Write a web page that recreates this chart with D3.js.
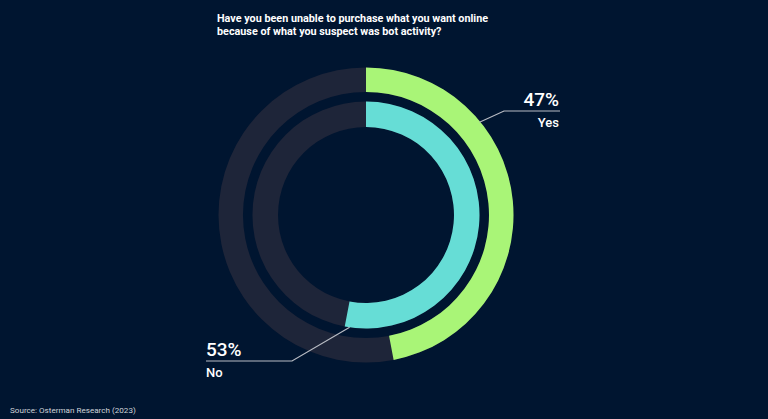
<!DOCTYPE html>
<html>
<head>
<meta charset="utf-8">
<script src="https://cdn.jsdelivr.net/npm/d3@7"></script>
<style>
  html, body { margin: 0; padding: 0; background: #001530; }
  svg { display: block; font-family: Roboto, "Noto Sans", sans-serif; }
</style>
</head>
<body>
<div class="visHolder"></div>
<script>
// chart data
const categories = ["Yes", "No"];
const values = [47, 53];
const colors = ["#a9f577", "#66ddd6"];
const titleLines = [
  "Have you been unable to purchase what you want online",
  "because of what you suspect was bot activity?"
];
const source = "Source: Osterman Research (2023)";

let width = 768;
let height = 419;
let cx = 366;
let cy = 215;

// ring radii: outer ring is Yes, inner ring is No
let rings = [
  { inner: 123, outer: 147.5 },
  { inner: 88, outer: 113.5 }
];

let svgContainer = d3
  .select(".visHolder")
  .append("svg")
  .attr("width", width)
  .attr("height", height);

svgContainer
  .append("rect")
  .attr("width", width)
  .attr("height", height)
  .attr("fill", "#001530");

let angle = d3.scaleLinear().domain([0, 100]).range([0, 2 * Math.PI]);

let g = svgContainer
  .append("g")
  .attr("transform", "translate(" + cx + "," + cy + ")");

categories.forEach(function (cat, i) {
  let arc = d3.arc().innerRadius(rings[i].inner).outerRadius(rings[i].outer);

  // track
  g.append("path")
    .attr("d", arc({ startAngle: 0, endAngle: 2 * Math.PI }))
    .attr("fill", "#1e2539");

  // value
  g.append("path")
    .attr("d", arc({ startAngle: 0, endAngle: angle(values[i]) }))
    .attr("fill", colors[i]);
});

// labels with leader lines
let labelLayout = [
  { at: 14.1, r: rings[0].outer - 1, elbow: [504, 111], end: 560, anchor: "end", tx: 559 },
  { at: 52.3, r: rings[1].outer, elbow: [292, 361], end: 206, anchor: "start", tx: 206 }
];

categories.forEach(function (cat, i) {
  let L = labelLayout[i];
  let a = angle(L.at);
  let px = cx + Math.sin(a) * L.r;
  let py = cy - Math.cos(a) * L.r;

  svgContainer
    .append("polyline")
    .attr("points", [[px, py], L.elbow, [L.end, L.elbow[1]]].map((p) => p.join(",")).join(" "))
    .attr("fill", "none")
    .attr("stroke", "#b8bcc4")
    .attr("stroke-width", 1.2);

  svgContainer
    .append("text")
    .attr("x", L.tx)
    .attr("y", L.elbow[1] - 5)
    .attr("text-anchor", L.anchor)
    .attr("fill", "#ffffff")
    .attr("font-size", 19)
    .attr("font-weight", 500)
    .text(values[i] + "%");

  svgContainer
    .append("text")
    .attr("x", L.tx)
    .attr("y", L.elbow[1] + 16)
    .attr("text-anchor", L.anchor)
    .attr("fill", "#ffffff")
    .attr("font-size", 13)
    .attr("font-weight", 500)
    .text(cat);
});

// title
svgContainer
  .append("g")
  .selectAll("text")
  .data(titleLines)
  .enter()
  .append("text")
  .attr("x", 217)
  .attr("y", (d, i) => 22 + i * 12.5)
  .attr("fill", "#ffffff")
  .attr("font-size", 10.8)
  .attr("font-weight", "bold")
  .text((d) => d);

svgContainer
  .append("text")
  .attr("x", 10)
  .attr("y", 413)
  .attr("fill", "#d0d4da")
  .attr("font-size", 8.1)
  .text(source);
</script>
</body>
</html>
